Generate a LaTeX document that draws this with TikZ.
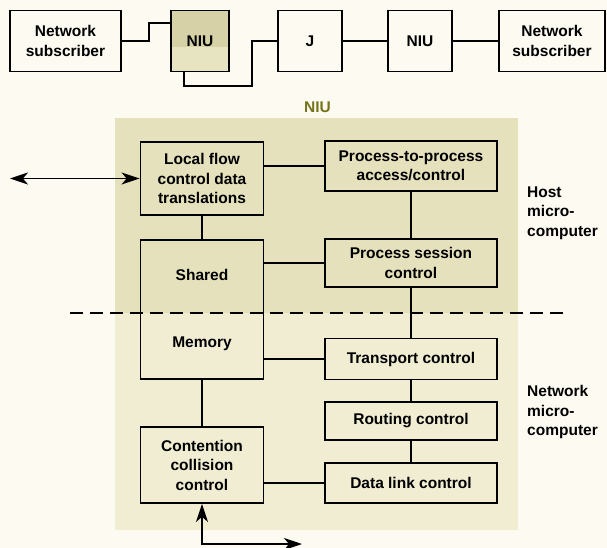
\documentclass[tikz,border=0pt]{standalone}
\usepackage{fontspec}
\setmainfont{Liberation Sans}
\usetikzlibrary{arrows.meta}
\definecolor{paper}{RGB}{252,250,241}
\definecolor{upperfill}{RGB}{229,225,188}
\definecolor{lowerfill}{RGB}{240,237,210}
\definecolor{niudark}{RGB}{214,209,166}
\definecolor{niulight}{RGB}{231,228,194}
\definecolor{olive}{RGB}{118,116,26}
\begin{document}
\begin{tikzpicture}[x=1pt,y=-1pt,
  every node/.style={font=\fontsize{15.5}{19.5}\selectfont\bfseries},
  blk/.style={draw=black, line width=1.8pt, inner sep=0pt, align=center},
  conn/.style={line width=1.8pt, draw=black},
  bigtip/.tip={Stealth[length=18pt,width=12pt,inset=5pt]},
  lbl/.style={align=left, anchor=west, inner sep=0pt}]
\useasboundingbox (0,0) rectangle (607,548);
\fill[paper] (0,0) rectangle (607,548);
% shaded NIU area
\fill[upperfill] (115,118) rectangle (518,313);
\fill[lowerfill] (115,313) rectangle (518,530);
% top NIU box shading
\fill[niudark] (171,11) rectangle (229,47);
\fill[niulight] (171,47) rectangle (229,72);
% top row
\node[blk, minimum width=111pt, minimum height=61pt] (ns1) at (65.5,41) {Network\\subscriber};
\node[blk, minimum width=58pt, minimum height=61pt] (niu1) at (200,41) {NIU};
\node[blk, minimum width=64pt, minimum height=61pt] (j) at (310,41) {J};
\node[blk, minimum width=64pt, minimum height=61pt] (niu2) at (420,41) {NIU};
\node[blk, minimum width=106pt, minimum height=61pt] (ns2) at (552,41) {Network\\subscriber};
\coordinate (a1) at (149,41);
\coordinate (a2) at (149,23);
\draw[conn] (ns1.east) -- (a1) -- (a2) -- (a2 -| niu1.west);
\coordinate (b1) at (184,86);
\coordinate (b2) at (252,86);
\draw[conn] (b1 |- niu1.south) -- (b1) -- (b2) -- (b2 |- j.west) -- (j.west);
\draw[conn] (j.east) -- (niu2.west);
\draw[conn] (niu2.east) -- (ns2.west);
% NIU label
\node[text=olive] (niulbl) at (317.5,107) {NIU};
% left column
\node[blk, minimum width=123pt, minimum height=73pt] (lf) at (202,178.5) {Local flow\\control data\\translations};
\node[blk, minimum width=123pt, minimum height=139pt] (mem) at (202,309.5) {};
\node (shared) at (202,275) {Shared};
\node (memory) at (202,344) {Memory};
\node[blk, minimum width=123pt, minimum height=76pt] (cc) at (202,465) {Contention\\collision\\control};
% right column
\node[blk, minimum width=172pt, minimum height=50pt] (pp) at (411,166) {Process-to-process\\access/control};
\node[blk, minimum width=172pt, minimum height=48pt] (psc) at (411,263) {Process session\\control};
\node[blk, minimum width=172pt, minimum height=41pt] (tc) at (411,359) {Transport control};
\node[blk, minimum width=172pt, minimum height=38pt] (rc) at (411,421) {Routing control};
\node[blk, minimum width=172pt, minimum height=40pt] (dl) at (411,483) {Data link control};
% connectors
\draw[conn] (lf.south) -- (mem.north);
\draw[conn] (mem.south) -- (cc.north);
\draw[conn] (pp.west) -- (pp.west -| lf.east);
\draw[conn] (psc.west) -- (psc.west -| mem.east);
\draw[conn] (tc.west) -- (tc.west -| mem.east);
\draw[conn] (dl.west) -- (dl.west -| cc.east);
\draw[conn] (pp.south) -- (psc.north);
\draw[conn] (psc.south) -- (tc.north);
\draw[conn] (tc.south) -- (rc.north);
\draw[conn] (rc.south) -- (dl.north);
% dashed divider
\coordinate (d1) at (70,313);
\coordinate (d2) at (570,313);
\draw[line width=1.6pt, dash pattern=on 13pt off 7pt] (d1) -- (d2);
% external arrows
\coordinate (ext1) at (10,178.5);
\draw[conn, bigtip-bigtip] (ext1) -- (lf.west);
\coordinate (e1) at (202,544);
\coordinate (e2) at (302,544);
\draw[conn, bigtip-bigtip] (cc.south) -- (e1) -- (e2);
% side labels
\node[lbl] (host) at (527,213) {Host\\micro-\\computer};
\node[lbl] (netmc) at (527,412) {Network\\micro-\\computer};
\end{tikzpicture}
\end{document}
